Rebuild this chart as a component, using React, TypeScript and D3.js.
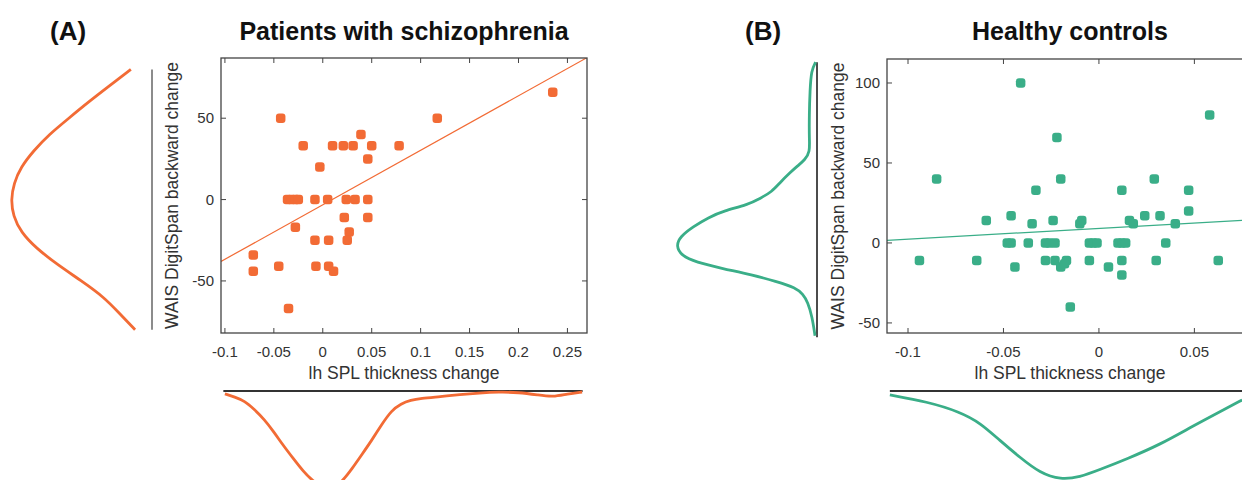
import React from 'react';
import * as d3 from 'd3';

const ORANGE = '#f26b35';
const GREEN = '#3aae88';
const INK = '#333333';

// (A) patients with schizophrenia
const patientsX = [
  -0.043, 0.235, 0.117, 0.039, -0.02, 0.01, 0.021, 0.031, 0.05, 0.078, 0.046, -0.003,
  -0.036, -0.032, -0.028, -0.025, -0.008, 0.005, 0.024, 0.033, 0.046, 0.022, 0.046,
  -0.028, 0.027, -0.008, 0.006, 0.025, -0.071, -0.071, -0.045, -0.007, 0.006, 0.011, -0.035,
];
const patientsY = [
  50, 66, 50, 40, 33, 33, 33, 33, 33, 33, 25, 20, 0, 0, 0, 0, 0, 0, 0, 0, 0, -11, -11, -17,
  -20, -25, -25, -25, -34, -44, -41, -41, -41, -44, -67,
];
const patientsFit = [-3.2, 334.8]; // intercept, slope

// marginal densities (relative)
const patientsYAt = [80, 70, 60, 50, 40, 30, 20, 10, 0, -10, -20, -30, -40, -50, -60, -70, -80];
const patientsYDens = [
  0.15, 0.3, 0.45, 0.59, 0.73, 0.84, 0.93, 0.98, 1.0, 0.985, 0.93, 0.82, 0.67, 0.5, 0.34, 0.23, 0.12,
];
const patientsXAt = [
  -0.1, -0.09, -0.08, -0.07, -0.06, -0.05, -0.04, -0.03, -0.02, -0.01, 0, 0.01, 0.02, 0.03, 0.04,
  0.05, 0.06, 0.07, 0.08, 0.09, 0.1, 0.12, 0.14, 0.16, 0.18, 0.2, 0.22, 0.235, 0.25, 0.265,
];
const patientsXDens = [
  0.02, 0.043, 0.07, 0.13, 0.2, 0.29, 0.39, 0.48, 0.57, 0.64, 0.68, 0.7, 0.64, 0.55, 0.45, 0.35,
  0.24, 0.14, 0.09, 0.065, 0.053, 0.04, 0.025, 0.014, 0.007, 0.01, 0.028, 0.043, 0.02, 0.007,
];

// (B) healthy controls
const controlsX = [
  -0.041, 0.058, -0.022, -0.085, -0.02, 0.029, -0.033, 0.012, 0.047, 0.047, -0.059, -0.046,
  -0.024, -0.009, -0.01, -0.035, 0.016, 0.018, 0.024, 0.032, 0.04,
  -0.048, -0.046, -0.037, -0.028, -0.026, -0.023, -0.005, -0.003, -0.001, 0.01, 0.012, 0.014, 0.035,
  -0.094, -0.064, -0.028, -0.023, -0.017, -0.005, 0.012, 0.03, 0.0625,
  -0.02, -0.018, -0.044, 0.005, 0.012, -0.015,
];
const controlsY = [
  100, 80, 66, 40, 40, 40, 33, 33, 33, 20, 14, 17, 14, 14, 12, 12, 14, 12, 17, 17, 12,
  0, 0, 0, 0, 0, 0, 0, 0, 0, 0, 0, 0, 0,
  -11, -11, -11, -11, -11, -11, -11, -11, -11,
  -15, -13, -15, -15, -20, -40,
];
const controlsFit = [9.1, 67.4];

const controlsYAt = [
  113, 108, 95, 80, 65, 57, 52, 48, 44, 38, 32, 28, 24, 20, 16, 10, 4, -2, -8, -12, -16, -20, -24,
  -28, -32, -37, -46, -58,
];
const controlsYDens = [
  0.01, 0.04, 0.05, 0.055, 0.055, 0.05, 0.085, 0.14, 0.19, 0.26, 0.32, 0.4, 0.49, 0.66, 0.77, 0.88,
  0.97, 1.0, 0.96, 0.86, 0.67, 0.46, 0.29, 0.15, 0.1, 0.065, 0.035, 0.014,
];
const controlsXAt = [
  -0.1095, -0.09, -0.073, -0.062, -0.052, -0.041, -0.031, -0.02, -0.01, 0, 0.015, 0.032, 0.049,
  0.067, 0.075,
];
const controlsXDens = [
  0.028, 0.076, 0.147, 0.227, 0.35, 0.475, 0.58, 0.63, 0.61, 0.56, 0.48, 0.38, 0.25, 0.12, 0.064,
];

const FONT = 'Liberation Sans, Arial, sans-serif';

function Panel({
  label, labelX, title, color, xs, ys, fit,
  left, right, top, bottom, xDomain, yDomain, xTicks, yTicks,
  yAt, yDens, xAt, xDens, sideBase, sideSpan, sideStroke, bottomBase, bottomSpan,
}) {
  const x = d3.scaleLinear(xDomain, [left, right]);
  const y = d3.scaleLinear(yDomain, [bottom, top]);
  const dens = 141; // px for relative density 1
  const side = d3.scaleLinear([0, 1], [sideBase, sideBase - dens]);
  const under = d3.scaleLinear([0, 1], [bottomBase, bottomBase + dens]);

  const sideLine = d3
    .line<number>()
    .curve(d3.curveBasis)
    .x((i) => side(yDens[i]))
    .y((i) => y(yAt[i]));
  const underLine = d3
    .line<number>()
    .curve(d3.curveBasis)
    .x((i) => x(xAt[i]))
    .y((i) => under(xDens[i]));

  const clipId = 'clip-' + label;
  const tick = 5;

  return (
    <g fontFamily={FONT}>
      <text x={labelX} y={40} fontSize={26} fontWeight="bold" fill="#111">{`(${label})`}</text>
      <text x={(left + right) / 2} y={40} fontSize={25} fontWeight="bold" fill="#111" textAnchor="middle">
        {title}
      </text>

      {/* side marginal */}
      <line x1={sideBase} x2={sideBase} y1={y(sideSpan[0])} y2={y(sideSpan[1])} stroke={sideStroke} strokeWidth={1.5} />
      <path d={sideLine(d3.range(yAt.length)) || ''} fill="none" stroke={color} strokeWidth={2.8} />

      {/* bottom marginal */}
      <line x1={x(bottomSpan[0])} x2={x(bottomSpan[1])} y1={bottomBase} y2={bottomBase} stroke={INK} strokeWidth={2} />
      <path d={underLine(d3.range(xAt.length)) || ''} fill="none" stroke={color} strokeWidth={2.8} />

      <clipPath id={clipId}>
        <rect x={left} y={top} width={right - left} height={bottom - top} />
      </clipPath>

      {/* fit line */}
      <line
        clipPath={`url(#${clipId})`}
        x1={x(xDomain[0])}
        y1={y(fit[0] + fit[1] * xDomain[0])}
        x2={x(xDomain[1])}
        y2={y(fit[0] + fit[1] * xDomain[1])}
        stroke={color}
        strokeWidth={1.2}
      />

      {xs.map((v, i) => (
        <rect key={i} x={x(v) - 4.75} y={y(ys[i]) - 4.75} width={9.5} height={9.5} rx={3} fill={color} />
      ))}

      {/* axes box with mirrored inward ticks */}
      <rect x={left} y={top} width={right - left} height={bottom - top} fill="none" stroke="#444" strokeWidth={1.3} />
      {xTicks.map((t) => (
        <g key={'x' + t}>
          <line x1={x(t)} x2={x(t)} y1={bottom} y2={bottom - tick} stroke="#444" />
          <line x1={x(t)} x2={x(t)} y1={top} y2={top + tick} stroke="#444" />
          <text x={x(t)} y={bottom + 24} fontSize={15} fill={INK} textAnchor="middle">{String(t)}</text>
        </g>
      ))}
      {yTicks.map((t) => (
        <g key={'y' + t}>
          <line x1={left} x2={left + tick} y1={y(t)} y2={y(t)} stroke="#444" />
          <line x1={right} x2={right - tick} y1={y(t)} y2={y(t)} stroke="#444" />
          <text x={left - 7} y={y(t) + 5} fontSize={15} fill={INK} textAnchor="end">{String(t)}</text>
        </g>
      ))}
      <text x={(left + right) / 2} y={379} fontSize={17.5} fill={INK} textAnchor="middle">
        lh SPL thickness change
      </text>
      <text
        transform={`translate(${left - 49},${(top + bottom) / 2}) rotate(-90)`}
        fontSize={17.5}
        fill={INK}
        textAnchor="middle"
        dy="0.35em"
      >
        WAIS DigitSpan backward change
      </text>
    </g>
  );
}

export default function App() {
  return (
    <svg
      width={1242}
      height={480}
      style={{ position: 'absolute', left: 0, top: 0, background: '#fff', display: 'block' }}
    >
      <Panel
        label="A"
        labelX={50}
        title="Patients with schizophrenia"
        color={ORANGE}
        xs={patientsX}
        ys={patientsY}
        fit={patientsFit}
        left={221}
        right={587}
        top={58}
        bottom={333}
        xDomain={[-0.104, 0.27]}
        yDomain={[-82, 87]}
        xTicks={[-0.1, -0.05, 0, 0.05, 0.1, 0.15, 0.2, 0.25]}
        yTicks={[-50, 0, 50]}
        yAt={patientsYAt}
        yDens={patientsYDens}
        xAt={patientsXAt}
        xDens={patientsXDens}
        sideBase={152}
        sideSpan={[80, -80]}
        sideStroke="#666"
        bottomBase={391}
        bottomSpan={[-0.1016, 0.2655]}
      />
      <Panel
        label="B"
        labelX={745}
        title="Healthy controls"
        color={GREEN}
        xs={controlsX}
        ys={controlsY}
        fit={controlsFit}
        left={887}
        right={1253}
        top={59}
        bottom={333}
        xDomain={[-0.111, 0.0807]}
        yDomain={[-56.3, 115]}
        xTicks={[-0.1, -0.05, 0, 0.05]}
        yTicks={[-50, 0, 50, 100]}
        yAt={controlsYAt}
        yDens={controlsYDens}
        xAt={controlsXAt}
        xDens={controlsXDens}
        sideBase={817}
        sideSpan={[113, -59]}
        sideStroke="#111"
        bottomBase={391}
        bottomSpan={[-0.1095, 0.0807]}
      />
    </svg>
  );
}
